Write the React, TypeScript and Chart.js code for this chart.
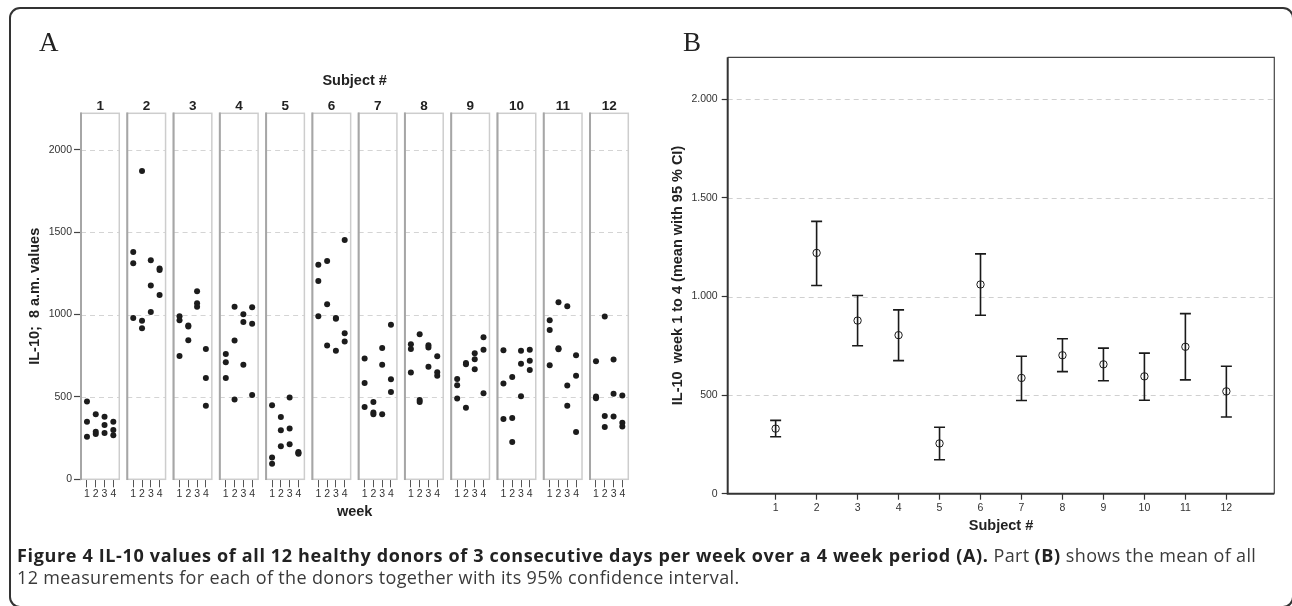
import React, { useEffect, useRef } from "react";
import { Chart, registerables } from "chart.js";

Chart.register(...registerables);

// ---------- DATA ----------
const SUBJECT_NUMBERS = [1, 2, 3, 4, 5, 6, 7, 8, 9, 10, 11, 12];
const WEEKS = [1, 2, 3, 4];

// Panel A: IL-10 8 a.m. values, 3 consecutive days per week, weeks 1..4 (3 values each)
const il10Subject1 = [472, 350, 259, 395, 289, 275, 380, 330, 281, 350, 300, 267];
const il10Subject2 = [1380, 1312, 980, 1872, 963, 917, 1330, 1176, 1016, 1280, 1270, 1119];
const il10Subject3 = [990, 965, 749, 933, 927, 844, 1141, 1069, 1048, 791, 615, 447];
const il10Subject4 = [761, 710, 615, 1048, 842, 484, 1002, 955, 696, 1044, 945, 512];
const il10Subject5 = [449, 132, 95, 378, 298, 200, 496, 308, 213, 165, 160, 155];
const il10Subject6 = [1303, 1204, 990, 1325, 1062, 812, 980, 975, 781, 1453, 886, 836];
const il10Subject7 = [733, 585, 439, 470, 405, 395, 797, 696, 395, 939, 607, 530];
const il10Subject8 = [820, 791, 648, 880, 482, 470, 814, 800, 684, 747, 650, 629];
const il10Subject9 = [609, 571, 490, 706, 698, 435, 765, 729, 668, 862, 787, 522];
const il10Subject10 = [783, 581, 366, 621, 372, 227, 781, 702, 504, 787, 719, 664];
const il10Subject11 = [965, 907, 692, 1075, 795, 790, 1050, 569, 447, 753, 629, 287];
const il10Subject12 = [717, 502, 492, 988, 385, 318, 727, 520, 381, 508, 344, 320];

const SUBJECT_VALUES = [
  il10Subject1, il10Subject2, il10Subject3, il10Subject4, il10Subject5, il10Subject6,
  il10Subject7, il10Subject8, il10Subject9, il10Subject10, il10Subject11, il10Subject12,
];

const Y_TICKS_A = [0, 500, 1000, 1500, 2000];

// Panel B: mean with 95 % CI
const meanWeek1to4 = [330, 1221, 878, 804, 255, 1061, 587, 702, 656, 595, 745, 519];
const ciLower = [289, 1056, 750, 675, 172, 905, 473, 619, 573, 474, 577, 389];
const ciUpper = [372, 1381, 1005, 932, 337, 1216, 697, 786, 738, 713, 913, 646];
const Y_TICKS_B = [0, 500, 1000, 1500, 2000];

// ---------- LAYOUT CONSTANTS ----------
const FACET_PITCH = 5.27;
const FACET_LO = 0.32;
const FACET_HI = 4.68;
const SANS = "'Liberation Sans', Arial, sans-serif";

const facetPlugin = {
  id: "facets",
  beforeDatasetsDraw(chart: any) {
    const { ctx, chartArea, scales } = chart;
    const { top, bottom } = chartArea;
    const x = scales.x;
    const y = scales.y;
    ctx.save();
    SUBJECT_NUMBERS.forEach((_, s) => {
      const xl = x.getPixelForValue(s * FACET_PITCH + FACET_LO);
      const xr = x.getPixelForValue(s * FACET_PITCH + FACET_HI);
      ctx.fillStyle = "#ffffff";
      ctx.fillRect(xl, top, xr - xl, bottom - top);
      ctx.setLineDash([5, 4]);
      ctx.strokeStyle = "#d4d4d4";
      ctx.lineWidth = 1;
      Y_TICKS_A.slice(1).forEach((v) => {
        const py = Math.round(y.getPixelForValue(v)) + 0.5;
        ctx.beginPath();
        ctx.moveTo(xl, py);
        ctx.lineTo(xr, py);
        ctx.stroke();
      });
      ctx.setLineDash([]);
      ctx.strokeStyle = "#cdcdcd";
      ctx.lineWidth = 1.5;
      ctx.strokeRect(xl, top, xr - xl, bottom - top);
      ctx.strokeStyle = "#a6a6a6";
      ctx.lineWidth = 2;
      ctx.beginPath();
      ctx.moveTo(xl, top - 0.7);
      ctx.lineTo(xl, bottom + 0.7);
      ctx.stroke();
    });
    ctx.restore();
  },
  afterDraw(chart: any) {
    const { ctx, chartArea, scales } = chart;
    const x = scales.x;
    ctx.save();
    ctx.fillStyle = "#222";
    ctx.textAlign = "center";
    ctx.textBaseline = "middle";
    ctx.font = `bold 13.5px ${SANS}`;
    SUBJECT_NUMBERS.forEach((n, s) => {
      const cx = x.getPixelForValue(s * FACET_PITCH + (FACET_LO + FACET_HI) / 2);
      ctx.fillText(String(n), cx, chartArea.top - 7.5);
    });
    ctx.font = `bold 14.5px ${SANS}`;
    ctx.fillText("Subject #", (chartArea.left + chartArea.right) / 2, chartArea.top - 32.5);
    ctx.restore();
  },
};

const errorBarPlugin = {
  id: "errorBars",
  beforeDatasetsDraw(chart: any) {
    const { ctx, chartArea, scales } = chart;
    const { left, right, top, bottom } = chartArea;
    const x = scales.x;
    const y = scales.y;
    ctx.save();
    ctx.setLineDash([5, 4]);
    ctx.strokeStyle = "#d0d0d0";
    ctx.lineWidth = 1;
    Y_TICKS_B.slice(1).forEach((v) => {
      const py = Math.round(y.getPixelForValue(v)) + 0.5;
      ctx.beginPath();
      ctx.moveTo(left, py);
      ctx.lineTo(right, py);
      ctx.stroke();
    });
    ctx.setLineDash([]);
    ctx.strokeStyle = "#444";
    ctx.lineWidth = 1.2;
    ctx.beginPath();
    ctx.moveTo(left, top);
    ctx.lineTo(right, top);
    ctx.lineTo(right, bottom);
    ctx.stroke();
    ctx.strokeStyle = "#333";
    ctx.lineWidth = 2;
    ctx.beginPath();
    ctx.moveTo(left, top);
    ctx.lineTo(left, bottom);
    ctx.lineTo(right, bottom);
    ctx.stroke();
    ctx.strokeStyle = "#1a1a1a";
    ctx.lineWidth = 1.6;
    SUBJECT_NUMBERS.forEach((n, i) => {
      const px = x.getPixelForValue(n);
      const yl = y.getPixelForValue(ciLower[i]);
      const yu = y.getPixelForValue(ciUpper[i]);
      ctx.beginPath();
      ctx.moveTo(px, yl);
      ctx.lineTo(px, yu);
      ctx.moveTo(px - 5.5, yl);
      ctx.lineTo(px + 5.5, yl);
      ctx.moveTo(px - 5.5, yu);
      ctx.lineTo(px + 5.5, yu);
      ctx.stroke();
    });
    ctx.restore();
  },
};

function formatDE(v: number): string {
  if (v >= 1000) {
    return `${Math.floor(v / 1000)}.${String(v % 1000).padStart(3, "0")}`;
  }
  return String(v);
}

export default function App() {
  const refA = useRef<HTMLCanvasElement | null>(null);
  const refB = useRef<HTMLCanvasElement | null>(null);

  useEffect(() => {
    const pointsA: { x: number; y: number }[] = [];
    SUBJECT_VALUES.forEach((vals, s) => {
      vals.forEach((v, k) => {
        pointsA.push({ x: s * FACET_PITCH + WEEKS[Math.floor(k / 3)], y: v });
      });
    });
    const weekTickValues: number[] = [];
    SUBJECT_NUMBERS.forEach((_, s) => WEEKS.forEach((w) => weekTickValues.push(s * FACET_PITCH + w)));

    const chartA = new Chart(refA.current as HTMLCanvasElement, {
      type: "scatter",
      data: {
        datasets: [
          {
            data: pointsA,
            pointRadius: 3,
            pointBackgroundColor: "#1c1c1c",
            pointBorderColor: "#1c1c1c",
            pointBorderWidth: 0,
          },
        ],
      },
      options: {
        responsive: false,
        animation: false,
        events: [],
        layout: { padding: { left: 20, top: 113.3, right: 11.7, bottom: 0 } },
        plugins: { legend: { display: false }, tooltip: { enabled: false } },
        scales: {
          x: {
            type: "linear",
            min: FACET_LO,
            max: 11 * FACET_PITCH + FACET_HI,
            afterBuildTicks: (scale: any) => {
              scale.ticks = weekTickValues.map((v) => ({ value: v }));
            },
            afterFit: (scale: any) => {
              scale.height = 60.7;
            },
            ticks: {
              autoSkip: false,
              maxRotation: 0,
              minRotation: 0,
              padding: 1,
              color: "#333",
              font: { family: SANS, size: 10.5 },
              callback: (_v: any, i: number) => String(WEEKS[i % 4]),
            },
            grid: { drawOnChartArea: false, drawTicks: true, tickLength: 8, tickColor: "#555", tickWidth: 1 },
            border: { display: false },
            title: {
              display: true,
              text: "week",
              color: "#222",
              font: { family: SANS, size: 14.5, weight: "bold" },
              padding: { top: 0, bottom: 19.3 },
            },
          },
          y: {
            type: "linear",
            min: 0,
            max: 2222,
            afterBuildTicks: (scale: any) => {
              scale.ticks = Y_TICKS_A.map((v) => ({ value: v }));
            },
            afterFit: (scale: any) => {
              scale.width = 61;
            },
            ticks: {
              padding: 2,
              color: "#333",
              font: { family: SANS, size: 10.5 },
              callback: (v: any) => String(v),
            },
            grid: { drawOnChartArea: false, drawTicks: true, tickLength: 7, tickColor: "#444", tickWidth: 1.2 },
            border: { display: false },
            title: {
              display: true,
              text: "IL-10;  8 a.m. values",
              color: "#222",
              font: { family: SANS, size: 14.5, weight: "bold" },
              padding: { top: 6.3, bottom: 0 },
            },
          },
        },
      } as any,
      plugins: [facetPlugin],
    });

    const chartB = new Chart(refB.current as HTMLCanvasElement, {
      type: "scatter",
      data: {
        datasets: [
          {
            data: SUBJECT_NUMBERS.map((n, i) => ({ x: n, y: meanWeek1to4[i] })),
            pointRadius: 3.7,
            pointBackgroundColor: "rgba(0,0,0,0)",
            pointBorderColor: "#1a1a1a",
            pointBorderWidth: 1,
          },
        ],
      },
      options: {
        responsive: false,
        animation: false,
        events: [],
        layout: { padding: { left: 20, top: 57.3, right: 17.7, bottom: 0 } },
        plugins: { legend: { display: false }, tooltip: { enabled: false } },
        scales: {
          x: {
            type: "linear",
            min: -0.17,
            max: 13.17,
            afterBuildTicks: (scale: any) => {
              scale.ticks = SUBJECT_NUMBERS.map((v) => ({ value: v }));
            },
            afterFit: (scale: any) => {
              scale.height = 66.3;
            },
            ticks: {
              autoSkip: false,
              maxRotation: 0,
              minRotation: 0,
              padding: 2,
              color: "#333",
              font: { family: SANS, size: 10.5 },
              callback: (v: any) => String(v),
            },
            grid: { drawOnChartArea: false, drawTicks: true, tickLength: 6, tickColor: "#333", tickWidth: 1.2 },
            border: { display: false },
            title: {
              display: true,
              text: "Subject #",
              color: "#222",
              font: { family: SANS, size: 14.5, weight: "bold" },
              padding: { top: 0, bottom: 25.3 },
            },
          },
          y: {
            type: "linear",
            min: 0,
            max: 2213,
            afterBuildTicks: (scale: any) => {
              scale.ticks = Y_TICKS_B.map((v) => ({ value: v }));
            },
            afterFit: (scale: any) => {
              scale.width = 67.7;
            },
            ticks: {
              padding: 4,
              color: "#333",
              font: { family: SANS, size: 10.5 },
              callback: (v: any) => formatDE(Number(v)),
            },
            grid: { drawOnChartArea: false, drawTicks: true, tickLength: 6, tickColor: "#333", tickWidth: 1.2 },
            border: { display: false },
            title: {
              display: true,
              text: "IL-10  week 1 to 4 (mean with 95 % CI)",
              color: "#222",
              font: { family: SANS, size: 14.5, weight: "bold" },
              padding: { top: 9.3, bottom: 0 },
            },
          },
        },
      } as any,
      plugins: [errorBarPlugin],
    });

    return () => {
      chartA.destroy();
      chartB.destroy();
    };
  }, []);

  const boldStyle = { color: "#222", letterSpacing: "0.65px" };

  return (
    <div
      style={{
        position: "fixed",
        left: 0,
        top: 0,
        width: 1292,
        height: 606,
        background: "#fff",
        overflow: "hidden",
      }}
    >
      <div
        style={{
          position: "absolute",
          left: 9,
          top: 7,
          width: 1285,
          height: 601,
          boxSizing: "border-box",
          border: "2px solid #333",
          borderRadius: 11,
        }}
      />
      <canvas ref={refA} width={640} height={540} style={{ position: "absolute", left: 0, top: 0 }} />
      <canvas ref={refB} width={652} height={560} style={{ position: "absolute", left: 640, top: 0 }} />
      <div
        style={{
          position: "absolute",
          left: 39,
          top: 22,
          fontFamily: "'Liberation Serif', 'Times New Roman', serif",
          fontSize: 27,
          lineHeight: "40px",
          color: "#222",
        }}
      >
        A
      </div>
      <div
        style={{
          position: "absolute",
          left: 683,
          top: 22,
          fontFamily: "'Liberation Serif', 'Times New Roman', serif",
          fontSize: 27,
          lineHeight: "40px",
          color: "#222",
        }}
      >
        B
      </div>
      <div
        style={{
          position: "absolute",
          left: 17,
          top: 544,
          whiteSpace: "nowrap",
          fontFamily: "'Open Sans', sans-serif",
          fontSize: 18,
          lineHeight: "22px",
          letterSpacing: "0.35px",
          color: "#3a3a3a",
        }}
      >
        <b style={boldStyle}>
          Figure 4 IL-10 values of all 12 healthy donors of 3 consecutive days per week over a 4 week period (A).
        </b>{" "}
        Part <b style={boldStyle}>(B)</b> shows the mean of all
        <br />
        12 measurements for each of the donors together with its 95% confidence interval.
      </div>
    </div>
  );
}
